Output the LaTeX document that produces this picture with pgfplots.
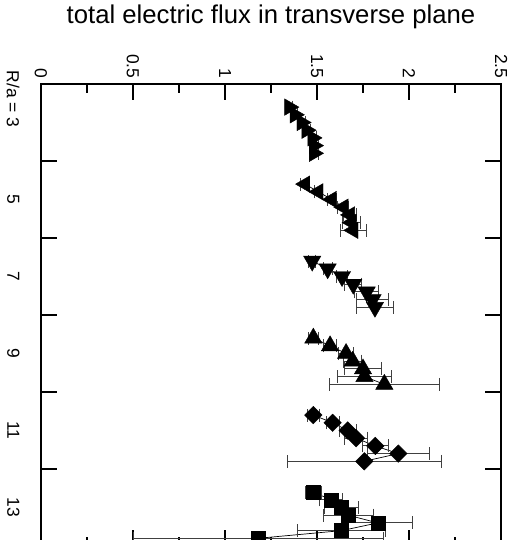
\documentclass[border=0pt]{standalone}
\usepackage{fontspec}
\setmainfont{Liberation Sans}
\usepackage{pgfplots}
\pgfplotsset{compat=1.18}
\begin{document}
\begin{tikzpicture}
\begin{axis}[
  at={(0,0)}, anchor=south west,
  scale only axis, width=460bp, height=462bp,
  xmin=0, xmax=2.5, ymin=2, ymax=14, y dir=reverse,
  axis line style={line width=1.2bp},
  xtick={0,0.5,1,1.5,2,2.5}, minor x tick num=1,
  ytick={4,6,8,10,12}, yticklabels={},
  extra y ticks={3,5,7,9,11,13},
  extra y tick labels={{\llap{R/a = }3},5,7,9,11,13},
  extra y tick style={major tick length=0pt},
  xticklabel pos=upper,
  tick pos=both,
  major tick length=16bp, minor tick length=8.7bp,
  tick style={black, line width=1.2bp},
  tick label style={font=\fontsize{17.5}{20}\selectfont},
  /pgf/number format/assume math mode=true,
  xticklabel style={yshift=2bp, rotate=-90, anchor=east},
  yticklabel style={xshift=-18bp, rotate=-90, anchor=north},
  title={total electric flux in transverse plane},
  title style={font=\fontsize{25.8}{30}\selectfont, at={(0.5,1)}, anchor=base, yshift=55bp},
  error bars/error bar style={line width=1bp, black!75},
  error bars/error mark options={rotate=90, line width=1bp, black!75, mark size=6.5bp},
]
% R/a = 3
\addplot[black, line width=0.7bp, mark=triangle*, mark size=9.5bp,
  mark options={solid, fill=black, line width=0.4bp, rotate=-90},
  error bars/.cd, x dir=both, x explicit]
  table[x=f, y=r, x error=e] {
f r e
1.350 2.6 0.015
1.380 2.8 0.015
1.417 3.0 0.020
1.444 3.2 0.020
1.476 3.4 0.020
1.484 3.6 0.022
1.484 3.8 0.026
};
% R/a = 5
\addplot[black, line width=0.7bp, mark=triangle*, mark size=9.5bp,
  mark options={solid, fill=black, line width=0.4bp, rotate=90},
  error bars/.cd, x dir=both, x explicit]
  table[x=f, y=r, x error=e] {
f r e
1.435 4.6 0.022
1.507 4.8 0.022
1.580 5.0 0.025
1.643 5.2 0.030
1.679 5.4 0.035
1.688 5.6 0.050
1.697 5.8 0.072
};
% R/a = 7
\addplot[black, line width=0.7bp, mark=triangle*, mark size=10bp,
  mark options={solid, fill=black, line width=0.4bp, rotate=180},
  error bars/.cd, x dir=both, x explicit]
  table[x=f, y=r, x error=e] {
f r e
1.474 6.6 0.020
1.558 6.8 0.025
1.636 7.0 0.030
1.697 7.2 0.045
1.770 7.4 0.065
1.802 7.6 0.087
1.815 7.8 0.100
};
% R/a = 9
\addplot[black, line width=0.7bp, mark=triangle*, mark size=10bp,
  mark options={solid, fill=black, line width=0.4bp},
  error bars/.cd, x dir=both, x explicit]
  table[x=f, y=r, x error=e] {
f r e
1.480 8.6 0.027
1.571 8.8 0.035
1.658 9.0 0.040
1.694 9.2 0.050
1.750 9.4 0.100
1.758 9.6 0.147
1.866 9.8 0.300
};
% R/a = 11
\addplot[black, line width=0.7bp, mark=square*, mark size=6.2bp,
  mark options={solid, fill=black, line width=0.4bp, rotate=45},
  error bars/.cd, x dir=both, x explicit]
  table[x=f, y=r, x error=e] {
f r e
1.480 10.6 0.033
1.585 10.8 0.035
1.667 11.0 0.045
1.712 11.2 0.063
1.817 11.4 0.072
1.942 11.6 0.167
1.757 11.8 0.420
};
% R/a = 13
\addplot[black, line width=0.7bp, mark=square*, mark size=7bp,
  mark options={solid, fill=black, line width=0.4bp},
  error bars/.cd, x dir=both, x explicit]
  table[x=f, y=r, x error=e] {
f r e
1.480 12.6 0.043
1.576 12.8 0.063
1.634 13.0 0.092
1.670 13.2 0.136
1.830 13.4 0.190
1.634 13.6 0.240
1.181 13.8 0.680
};
\end{axis}
\pgfresetboundingbox
\path[use as bounding box] (-41bp,6bp) rectangle (475bp,546bp);
\end{tikzpicture}
\end{document}
